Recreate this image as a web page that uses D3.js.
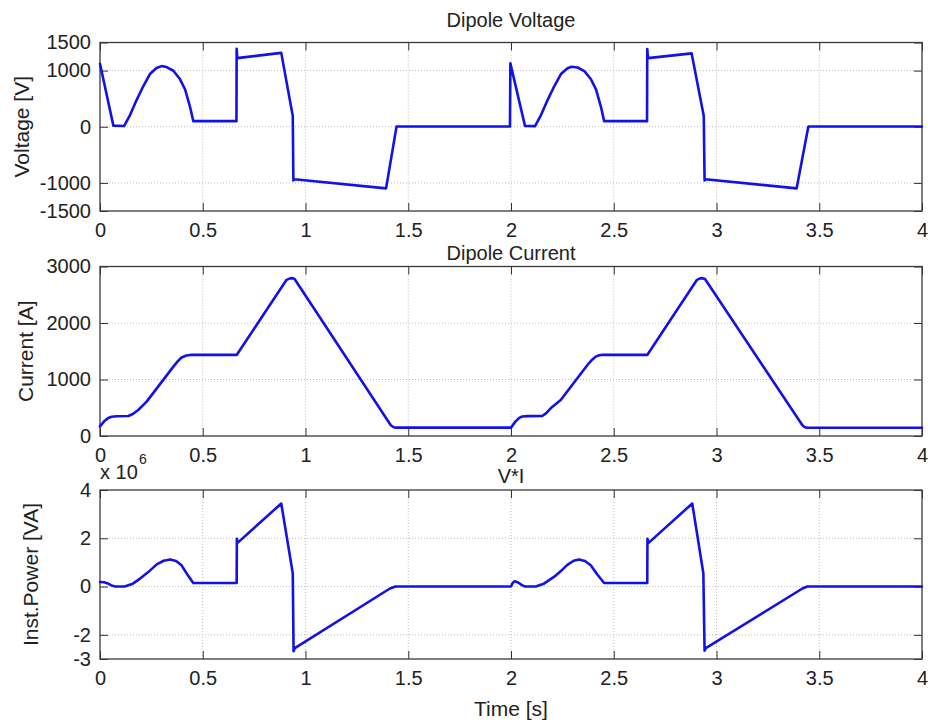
<!DOCTYPE html>
<html>
<head>
<meta charset="utf-8">
<script src="https://cdn.jsdelivr.net/npm/d3@7"></script>
<style>
  html, body { margin: 0; padding: 0; background: #fff; }
  svg { display: block; font-family: "Liberation Sans", Arial, Helvetica, sans-serif; }
  .grid line { stroke: #bdbdbd; stroke-width: 1; stroke-dasharray: 1,2; }
  .tick line { stroke: #333; }
</style>
</head>
<body>
<svg id="chart" width="928" height="722"></svg>
<script>
// Dipole voltage [V] over two 2 s cycles
const voltageTime = [0, 0.065, 0.117, 0.146, 0.178, 0.211, 0.243, 0.275, 0.300, 0.324, 0.357, 0.389, 0.414, 0.438, 0.454,
  0.664, 0.665, 0.668, 0.882, 0.938, 0.941, 0.946, 1.392, 1.443,
  1.995, 1.997, 2.068, 2.117, 2.146, 2.178, 2.211, 2.243, 2.275, 2.295, 2.324, 2.357, 2.389, 2.414, 2.438, 2.453,
  2.662, 2.663, 2.667, 2.879, 2.938, 2.942, 2.947, 3.390, 3.447, 4.0];
const voltageValues = [1120, 20, 12, 208, 475, 725, 938, 1045, 1080, 1063, 997, 849, 666, 356, 100,
  100, 1390, 1222, 1315, 190, -955, -935, -1097, 5,
  5, 1128, 15, 12, 208, 475, 725, 938, 1040, 1068, 1055, 990, 845, 660, 350, 100,
  100, 1385, 1222, 1306, 190, -955, -935, -1097, 5, 5];

// Dipole current [A]
const currentTime = [0, 0.02, 0.04, 0.057, 0.08, 0.138, 0.16, 0.186, 0.227, 0.357, 0.38, 0.397, 0.42, 0.44,
  0.665, 0.908, 0.925, 0.937, 0.947, 1.415, 1.427, 1.44,
  2.0, 2.02, 2.04, 2.055, 2.08, 2.152, 2.17, 2.193, 2.242, 2.372, 2.395, 2.412, 2.43, 2.44,
  2.663, 2.905, 2.92, 2.932, 2.944, 3.418, 3.428, 3.44, 4.0];
const currentValues = [170, 260, 320, 342, 350, 354, 390, 460, 608, 1228, 1330, 1390, 1425, 1435,
  1435, 2764, 2790, 2794, 2780, 190, 160, 148,
  148, 250, 320, 345, 352, 354, 400, 490, 638, 1258, 1350, 1405, 1430, 1435,
  1435, 2764, 2790, 2794, 2780, 190, 160, 147, 147];

// Instantaneous power V*I [VA], in units of 1e6
const powerTime = [0, 0.02, 0.035, 0.06, 0.075, 0.12, 0.16, 0.195, 0.235, 0.276, 0.31, 0.341, 0.37, 0.397, 0.425, 0.454,
  0.665, 0.666, 0.668, 0.882, 0.938, 0.942, 0.948, 1.411, 1.438,
  2.0, 2.008, 2.018, 2.035, 2.055, 2.07, 2.12, 2.16, 2.209, 2.24, 2.274, 2.305, 2.331, 2.36, 2.388, 2.42, 2.453,
  2.663, 2.664, 2.668, 2.882, 2.936, 2.942, 2.948, 3.418, 3.442, 4.0];
const powerValues = [0.19, 0.18, 0.14, 0.03, 0.0, 0.0, 0.12, 0.33, 0.6, 0.92, 1.07, 1.12, 1.06, 0.88, 0.5, 0.15,
  0.15, 1.98, 1.8, 3.44, 0.55, -2.68, -2.55, -0.08, 0,
  0, 0.15, 0.22, 0.17, 0.05, 0, 0, 0.12, 0.4, 0.62, 0.9, 1.07, 1.12, 1.06, 0.88, 0.5, 0.15,
  0.15, 1.98, 1.8, 3.44, 0.55, -2.66, -2.55, -0.08, 0, 0];

const xTicks = [0, 0.5, 1, 1.5, 2, 2.5, 3, 3.5, 4];
const voltageTicks = [-1500, -1000, 0, 1000, 1500];
const currentTicks = [0, 1000, 2000, 3000];
const powerTicks = [-3, -2, 0, 2, 4];

const svg = d3.select("#chart");
const left = 100, right = 922;
const x = d3.scaleLinear().domain([0, 4]).range([left, right]);
const fmt = d => String(d);

const panels = [
  { title: "Dipole Voltage", titleY: 27, label: "Voltage [V]", labelX: 29, top: 42.5, bottom: 211,
    domain: [-1500, 1500], ticks: voltageTicks, t: voltageTime, v: voltageValues },
  { title: "Dipole Current", titleY: 260, label: "Current [A]", labelX: 33, top: 266.5, bottom: 436,
    domain: [0, 3000], ticks: currentTicks, t: currentTime, v: currentValues },
  { title: "V*I", titleY: 483, label: "Inst.Power [VA]", labelX: 38, top: 490, bottom: 659,
    domain: [-3, 4], ticks: powerTicks, t: powerTime, v: powerValues }
];

panels.forEach(p => {
  const y = d3.scaleLinear().domain(p.domain).range([p.bottom, p.top]);
  const g = svg.append("g");

  // dotted grid
  const grid = g.append("g").attr("class", "grid");
  grid.selectAll(".gx").data(xTicks.filter(d => d > 0 && d < 4)).join("line")
    .attr("x1", d => x(d)).attr("x2", d => x(d)).attr("y1", p.top).attr("y2", p.bottom);
  grid.selectAll(".gy").data(p.ticks.filter(d => d > p.domain[0] && d < p.domain[1])).join("line")
    .attr("x1", left).attr("x2", right).attr("y1", d => y(d)).attr("y2", d => y(d));

  // axes with inward ticks on all four sides
  const axB = g.append("g").attr("transform", `translate(0,${p.bottom})`)
    .call(d3.axisBottom(x).tickValues(xTicks).tickFormat(fmt).tickSize(-8).tickPadding(12));
  const axT = g.append("g").attr("transform", `translate(0,${p.top})`)
    .call(d3.axisTop(x).tickValues(xTicks).tickFormat("").tickSize(-8));
  const axL = g.append("g").attr("transform", `translate(${left},0)`)
    .call(d3.axisLeft(y).tickValues(p.ticks).tickFormat(fmt).tickSize(-8).tickPadding(9));
  const axR = g.append("g").attr("transform", `translate(${right},0)`)
    .call(d3.axisRight(y).tickValues(p.ticks).tickFormat("").tickSize(-8));
  [axB, axT, axL, axR].forEach(a => {
    a.select(".domain").remove();
    a.selectAll("text").attr("font-size", 20).attr("fill", "#222").attr("font-family", null);
  });

  // frame
  g.append("rect").attr("x", left).attr("y", p.top).attr("width", right - left).attr("height", p.bottom - p.top)
    .attr("fill", "none").attr("stroke", "#3a3a3a").attr("stroke-width", 1.3);

  // signal trace
  const pts = p.t.map((t, i) => [t, p.v[i]]);
  g.append("path").datum(pts)
    .attr("fill", "none").attr("stroke", "#1212e8").attr("stroke-width", 2.6)
    .attr("stroke-linejoin", "round").attr("stroke-linecap", "round")
    .attr("d", d3.line().x(d => x(d[0])).y(d => y(d[1])));

  // title and y label
  g.append("text").attr("x", (left + right) / 2).attr("y", p.titleY).attr("text-anchor", "middle")
    .attr("font-size", 20).attr("fill", "#222").text(p.title);
  g.append("text").attr("transform", `translate(${p.labelX},${(p.top + p.bottom) / 2}) rotate(-90)`)
    .attr("text-anchor", "middle").attr("font-size", 21).attr("fill", "#222").text(p.label);
});

// exponent marker for the power axis
const expo = svg.append("text").attr("x", 100).attr("y", 479).attr("font-size", 20).attr("fill", "#222");
expo.append("tspan").text("x 10");
expo.append("tspan").attr("x", 139).attr("y", 464).attr("font-size", 14).text("6");

// x axis label
svg.append("text").attr("x", 511).attr("y", 716).attr("text-anchor", "middle")
  .attr("font-size", 21).attr("fill", "#222").text("Time [s]");
</script>
</body>
</html>
